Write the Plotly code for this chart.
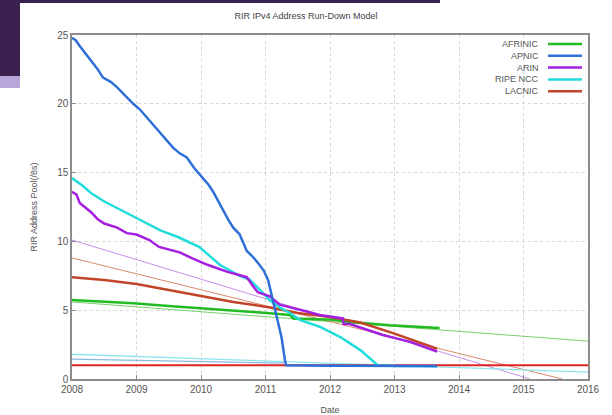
import plotly.graph_objects as go

# ---- data (decimal years, /8s) ----
apnic_x = [2008.0, 2008.06, 2008.12, 2008.2, 2008.31, 2008.4, 2008.48, 2008.6, 2008.7, 2008.82, 2008.95,
           2009.05, 2009.16, 2009.26, 2009.36, 2009.47, 2009.57, 2009.67, 2009.78, 2009.9, 2010.03,
           2010.12, 2010.19, 2010.27, 2010.34, 2010.42, 2010.5, 2010.6, 2010.71, 2010.8, 2010.89,
           2010.97, 2011.04, 2011.1, 2011.15, 2011.19, 2011.25, 2011.3, 2011.32, 2012.0, 2013.0, 2013.66]
apnic_y = [24.8, 24.6, 24.2, 23.7, 23.0, 22.5, 21.9, 21.6, 21.2, 20.6, 20.0,
           19.6, 19.0, 18.5, 17.9, 17.3, 16.8, 16.4, 16.1, 15.3, 14.6,
           14.1, 13.6, 12.9, 12.2, 11.6, 11.0, 10.5, 9.3, 8.9, 8.4,
           7.9, 7.2, 6.0, 5.2, 4.3, 3.0, 1.4, 1.0, 0.97, 0.95, 0.95]

arin_x = [2008.0, 2008.07, 2008.12, 2008.2, 2008.3, 2008.4, 2008.5, 2008.7, 2008.85, 2009.0, 2009.2,
          2009.35, 2009.5, 2009.67, 2009.85, 2010.1, 2010.4, 2010.71, 2010.8, 2010.88, 2011.07,
          2011.22, 2011.64, 2011.84, 2012.2, 2012.21, 2012.31, 2012.82, 2013.24, 2013.66]
arin_y = [13.6, 13.4, 12.8, 12.5, 12.1, 11.6, 11.3, 11.0, 10.6, 10.5, 10.1,
          9.6, 9.4, 9.2, 8.8, 8.3, 7.8, 7.4, 6.8, 6.3, 6.0,
          5.4, 4.9, 4.65, 4.4, 4.0, 4.0, 3.2, 2.7, 2.0]

ripe_x = [2008.0, 2008.15, 2008.3, 2008.5, 2008.75, 2009.0, 2009.17, 2009.37, 2009.65, 2009.97, 2010.12,
          2010.29, 2010.6, 2010.76, 2010.91, 2011.07, 2011.22, 2011.38, 2011.53, 2011.84, 2012.16,
          2012.47, 2012.74, 2013.0, 2013.66]
ripe_y = [14.6, 14.1, 13.5, 12.9, 12.3, 11.7, 11.3, 10.8, 10.3, 9.6, 9.0,
          8.3, 7.5, 7.2, 6.5, 5.7, 5.2, 4.8, 4.3, 3.8, 3.05,
          2.1, 1.0, 0.95, 0.92]

lacnic_x = [2008.0, 2008.5, 2009.0, 2009.67, 2010.0, 2010.5, 2011.07, 2011.5, 2012.0, 2012.47, 2013.0, 2013.66]
lacnic_y = [7.4, 7.2, 6.9, 6.3, 6.0, 5.6, 5.2, 4.8, 4.5, 4.1, 3.3, 2.2]

afrinic_x = [2008.0, 2008.95, 2009.5, 2009.98, 2010.5, 2010.76, 2011.02, 2011.38, 2011.43, 2012.05, 2012.31, 2012.93, 2013.4, 2013.7]
afrinic_y = [5.75, 5.5, 5.3, 5.15, 5.0, 4.87, 4.8, 4.65, 4.4, 4.3, 4.15, 3.9, 3.75, 3.7]

# projection lines (thin)
proj_afrinic_x, proj_afrinic_y = [2008.0, 2016.0], [5.6, 2.75]
proj_arin_x, proj_arin_y = [2008.0, 2015.1], [10.1, 0.0]
proj_lacnic_x, proj_lacnic_y = [2008.0, 2015.6], [8.8, 0.0]
proj_ripe_x, proj_ripe_y = [2008.0, 2016.0], [1.8, 0.5]
proj_apnic_x, proj_apnic_y = [2008.0, 2011.3], [1.45, 1.15]
floor_x, floor_y = [2008.0, 2016.0], [1.0, 1.0]

x_ticks = [2008, 2009, 2010, 2011, 2012, 2013, 2014, 2015, 2016]
x_tick_labels = ["2008", "2009", "2010", "2011", "2012", "2013", "2014", "2015", "2016"]
y_ticks = [0, 5, 10, 15, 20, 25]

legend_names = ["AFRINIC", "APNIC", "ARIN", "RIPE NCC", "LACNIC"]
colors = {"AFRINIC": "#22bb22", "APNIC": "#2f6fd8", "ARIN": "#a41fe0",
          "RIPE NCC": "#22dcdc", "LACNIC": "#c2452a"}

fig = go.Figure()

def thin(x, y, c, w=1):
    fig.add_trace(go.Scatter(x=x, y=y, mode="lines", line=dict(color=c, width=w),
                             showlegend=False, hoverinfo="skip"))

thin(proj_afrinic_x, proj_afrinic_y, "#7ccf6e")
thin(proj_arin_x, proj_arin_y, "#c98ee6")
thin(proj_lacnic_x, proj_lacnic_y, "#d98a6a")
thin(proj_ripe_x, proj_ripe_y, "#8fe4ee", 1.3)
thin(proj_apnic_x, proj_apnic_y, "#8fb8e0", 1.3)
thin(floor_x, floor_y, "#e02424", 2.2)

series = [("AFRINIC", afrinic_x, afrinic_y), ("LACNIC", lacnic_x, lacnic_y),
          ("RIPE NCC", ripe_x, ripe_y), ("ARIN", arin_x, arin_y), ("APNIC", apnic_x, apnic_y)]
for name, x, y in series:
    fig.add_trace(go.Scatter(x=x, y=y, mode="lines", name=name,
                             line=dict(color=colors[name], width=2.5), showlegend=False))

# geometry helpers (pixels -> paper)
L, R, T, B = 72, 588, 35, 379
def px(x): return (x - L) / (R - L)
def py(y): return (B - y) / (B - T)

shapes = []
annotations = []
# manual legend: text right-aligned, line sample on the right
for i, name in enumerate(legend_names):
    yy = 44 + i * 11.8
    annotations.append(dict(x=px(541), y=py(yy), xref="paper", yref="paper", text=name,
                            showarrow=False, xanchor="right", yanchor="middle",
                            font=dict(size=9, color="#555555")))
    shapes.append(dict(type="line", xref="paper", yref="paper", x0=px(548), x1=px(582),
                       y0=py(yy), y1=py(yy), line=dict(color=colors[name], width=2.5)))

# slide background remnants (purple)
shapes.append(dict(type="rect", xref="paper", yref="paper", x0=px(0), x1=px(20), y0=py(0), y1=py(76),
                   fillcolor="#3b2150", line=dict(width=0), layer="above"))
shapes.append(dict(type="rect", xref="paper", yref="paper", x0=px(0), x1=px(20), y0=py(76), y1=py(88),
                   fillcolor="#b9a6d8", line=dict(width=0), layer="above"))
shapes.append(dict(type="rect", xref="paper", yref="paper", x0=px(0), x1=px(440), y0=py(0), y1=py(3),
                   fillcolor="#3b2150", line=dict(width=0), layer="above"))

fig.update_layout(
    width=612, height=415,
    margin=dict(l=L, r=612 - R, t=T, b=415 - B, autoexpand=False),
    paper_bgcolor="white", plot_bgcolor="white",
    font=dict(family="Liberation Sans, Arial, sans-serif", size=10, color="#555555"),
    title=dict(text="RIR IPv4 Address Run-Down Model", x=0.5, xanchor="center",
               y=1 - 16 / 415, yanchor="middle", font=dict(size=9, color="#444444")),
    showlegend=False,
    shapes=shapes, annotations=annotations,
)
fig.update_xaxes(range=[2008, 2016], tickvals=x_ticks, ticktext=x_tick_labels,
                 showgrid=True, gridcolor="#d6d6d6", griddash="dot", gridwidth=1,
                 showline=True, linecolor="#8c8c8c", linewidth=1.5, mirror=True,
                 ticks="inside", ticklen=4, tickcolor="#8c8c8c", zeroline=False,
                 tickfont=dict(size=10, color="#555555"),
                 title=dict(text="Date", font=dict(size=9, color="#555555"), standoff=14))
fig.update_yaxes(range=[0, 25], tickvals=y_ticks,
                 showgrid=True, gridcolor="#d6d6d6", griddash="dot", gridwidth=1,
                 showline=True, linecolor="#8c8c8c", linewidth=1.5, mirror=True,
                 ticks="inside", ticklen=4, tickcolor="#8c8c8c", zeroline=False,
                 tickfont=dict(size=10, color="#555555"),
                 title=dict(text="RIR Address Pool(/8s)", font=dict(size=9, color="#555555"), standoff=18))

fig.write_html("out.html", config={"displayModeBar": False},
               post_script="document.body.style.margin='0';document.body.style.overflow='hidden';")
